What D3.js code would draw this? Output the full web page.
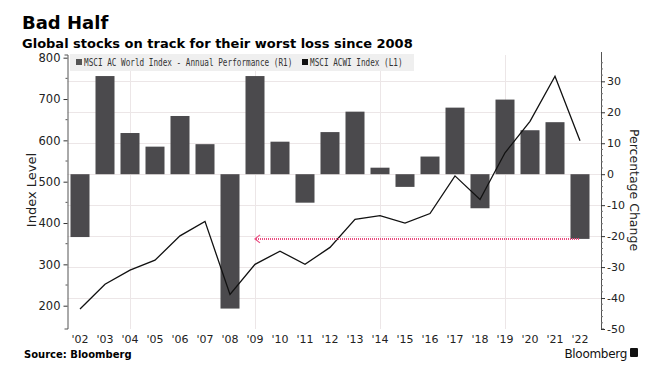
<!DOCTYPE html>
<html>
<head>
<meta charset="utf-8">
<script src="https://cdn.jsdelivr.net/npm/d3@7"></script>
<style>
  body { margin: 0; background: #fff; }
  svg { display: block; }
  text { font-family: "DejaVu Sans", sans-serif; fill: #222; }
</style>
</head>
<body>
<script>
// chart data
var years = ["'02","'03","'04","'05","'06","'07","'08","'09","'10","'11","'12","'13","'14","'15","'16","'17","'18","'19","'20","'21","'22"];
var perf = [-20.3, 31.7, 13.3, 8.9, 18.8, 9.7, -43.4, 31.7, 10.5, -9.2, 13.6, 20.2, 2.1, -4.1, 5.7, 21.5, -11.0, 24.1, 14.2, 16.8, -20.9];
var indexLevel = [192, 252, 286, 310, 369, 404, 227, 300, 332, 300, 341, 409, 418, 400, 423, 514, 457, 570, 646, 755, 599];
var leftTicks = [200, 300, 400, 500, 600, 700, 800];
var rightTicks = [30, 20, 10, 0, -10, -20, -30, -40, -50];
var gridYears = ["'04", "'09", "'14", "'19"];
var arrowFrom = "'22", arrowTo = "'09";

var W = 661, H = 386;
var plotTop = 55, plotBottom = 329, plotLeft = 67.5, plotRight = 601;

var svg = d3.select("body").append("svg")
  .attr("width", W).attr("height", H);

// scales
var x = d3.scaleBand().domain(years).range([plotLeft, 592.5])
  .paddingInner(0.24).paddingOuter(0.12);
var yL = d3.scaleLinear().domain([143.6, 806.5]).range([plotBottom, plotTop]);
var yR = d3.scaleLinear().domain([-50, 38.5]).range([plotBottom, plotTop]);
var cx = function (d) { return x(d) + x.bandwidth() / 2; };

// titles
svg.append("text").attr("x", 22).attr("y", 29)
  .style("font-size", "18px").style("font-weight", "bold").style("fill", "#000")
  .text("Bad Half");
svg.append("text").attr("x", 22).attr("y", 48)
  .style("font-size", "13px").style("font-weight", "bold").style("fill", "#000")
  .text("Global stocks on track for their worst loss since 2008");

// grid
var g = svg.append("g");
g.selectAll("line.hgrid").data(rightTicks.filter(function (d) { return d > -50; }))
  .enter().append("line").attr("class", "hgrid")
  .attr("x1", plotLeft).attr("x2", plotRight)
  .attr("y1", function (d) { return Math.round(yR(d)) + 0.5; })
  .attr("y2", function (d) { return Math.round(yR(d)) + 0.5; })
  .attr("stroke", "#ece6e7").attr("stroke-width", 1);
g.selectAll("line.vgrid").data(gridYears)
  .enter().append("line").attr("class", "vgrid")
  .attr("x1", function (d) { return Math.round(cx(d)) + 0.5; })
  .attr("x2", function (d) { return Math.round(cx(d)) + 0.5; })
  .attr("y1", plotTop).attr("y2", plotBottom)
  .attr("stroke", "#ece6e7").attr("stroke-width", 1);

// bars
g.selectAll("rect.bar").data(perf)
  .enter().append("rect").attr("class", "bar")
  .attr("x", function (d, i) { return x(years[i]); })
  .attr("width", x.bandwidth())
  .attr("y", function (d) { return yR(Math.max(0, d)); })
  .attr("height", function (d) { return Math.abs(yR(d) - yR(0)); })
  .attr("fill", "#4b4a4d");

// index line
var line = d3.line()
  .x(function (d, i) { return cx(years[i]); })
  .y(function (d) { return yL(d); });
g.append("path").datum(indexLevel)
  .attr("d", line).attr("fill", "none")
  .attr("stroke", "#111").attr("stroke-width", 1.3);

// pink arrow
var ay = yR(perf[years.indexOf(arrowFrom)]);
var ax0 = cx(arrowTo), ax1 = cx(arrowFrom);
g.append("line").attr("x1", ax0 + 1).attr("x2", ax1)
  .attr("y1", ay).attr("y2", ay)
  .attr("stroke", "#ea4c80").attr("stroke-width", 2)
  .attr("stroke-dasharray", "1,1");
g.append("path")
  .attr("d", "M" + (ax0 + 5) + "," + (ay - 4) + "L" + ax0 + "," + ay + "L" + (ax0 + 5) + "," + (ay + 4))
  .attr("fill", "none").attr("stroke", "#ea4c80").attr("stroke-width", 1.2);

// left axis
var la = svg.append("g").attr("transform", "translate(" + plotLeft + ",0)");
la.call(d3.axisLeft(yL).tickValues(leftTicks).tickSize(4).tickPadding(3));
la.select(".domain").attr("d", "M-3," + plotTop + "H0.5V" + plotBottom + "H-3")
  .attr("stroke", "#555");
la.selectAll(".tick line").attr("stroke", "#333");
la.selectAll(".tick text").style("font-size", "11.5px").style("fill", "#222")
  .style("font-family", "DejaVu Sans");
la.selectAll("line.minor").data([250, 350, 450, 550, 650, 750])
  .enter().append("line").attr("class", "minor")
  .attr("x1", -2).attr("x2", 0)
  .attr("y1", function (d) { return yL(d); }).attr("y2", function (d) { return yL(d); })
  .attr("stroke", "#555");

// right axis
var ra = svg.append("g").attr("transform", "translate(" + plotRight + ",0)");
ra.call(d3.axisRight(yR).tickValues(rightTicks).tickSize(4).tickPadding(2)
  .tickFormat(function (d) { return d < 0 ? "-" + Math.abs(d) : d; }));
ra.select(".domain").attr("d", "M0.5," + (plotTop - 3) + "V" + plotBottom + "H3")
  .attr("stroke", "#555");
ra.selectAll(".tick line").attr("stroke", "#333");
ra.selectAll(".tick text").style("font-size", "11px").style("fill", "#222")
  .style("font-family", "DejaVu Sans");
var minorR = d3.range(-48, 38, 2).filter(function (d) { return d % 10 !== 0; });
ra.selectAll("line.minor").data(minorR)
  .enter().append("line").attr("class", "minor")
  .attr("x1", 0).attr("x2", 2)
  .attr("y1", function (d) { return yR(d); }).attr("y2", function (d) { return yR(d); })
  .attr("stroke", "#777");

// x labels
svg.selectAll("text.xlab").data(years)
  .enter().append("text").attr("class", "xlab")
  .attr("x", function (d) { return cx(d); }).attr("y", 343)
  .attr("text-anchor", "middle")
  .style("font-size", "11px")
  .text(function (d) { return d; });

// axis titles
svg.append("text")
  .attr("transform", "translate(36," + ((plotTop + plotBottom) / 2 - 2) + ") rotate(-90)")
  .attr("text-anchor", "middle").style("font-size", "13px")
  .text("Index Level");
svg.append("text")
  .attr("transform", "translate(630," + ((plotTop + plotBottom) / 2 - 2) + ") rotate(90)")
  .attr("text-anchor", "middle").style("font-size", "12.5px")
  .text("Percentage Change");

// legend
var lg = svg.append("g");
lg.append("rect").attr("x", 70).attr("y", 54).attr("width", 344).attr("height", 17)
  .attr("fill", "#efefef");
var legendItems = [
  { label: "MSCI AC World Index - Annual Performance (R1)", x: 76, c: "#555" },
  { label: "MSCI ACWI Index  (L1)", x: 302, c: "#111" }
];
legendItems.forEach(function (d) {
  lg.append("rect").attr("x", d.x).attr("y", 59).attr("width", 6).attr("height", 6)
    .attr("fill", d.c);
  lg.append("text").attr("transform", "translate(" + (d.x + 8) + ",66) scale(1,1.25)")
    .style("font-family", "DejaVu Sans Mono").style("font-size", "7.7px").style("fill", "#333")
    .text(d.label);
});

// footer
svg.append("text").attr("x", 24).attr("y", 358)
  .style("font-size", "10px").style("font-weight", "bold").style("fill", "#000")
  .text("Source: Bloomberg");
svg.append("text").attr("x", 627).attr("y", 358)
  .attr("text-anchor", "end")
  .style("font-size", "12px").style("fill", "#111").style("letter-spacing", "-0.3px")
  .text("Bloomberg");
svg.append("rect").attr("x", 630).attr("y", 348).attr("width", 8).attr("height", 9)
  .attr("rx", 1).attr("fill", "#111");
</script>
</body>
</html>
